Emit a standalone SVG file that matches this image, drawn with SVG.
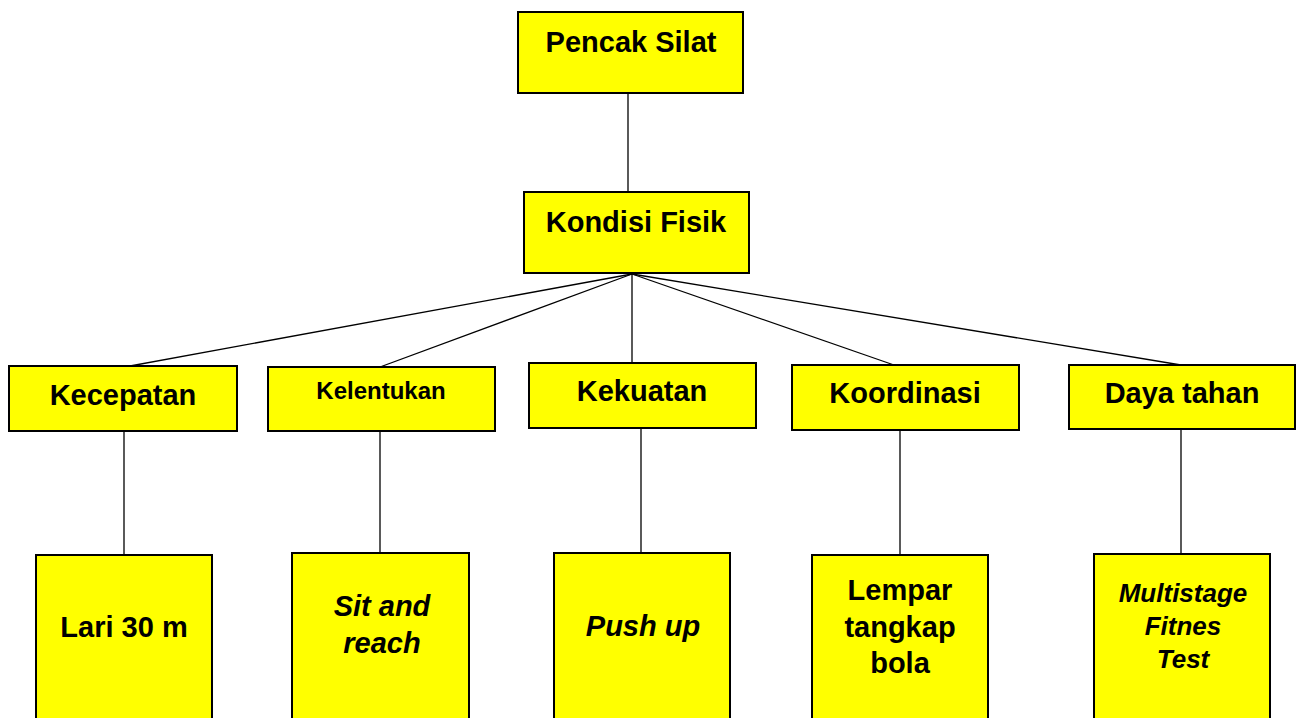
<svg xmlns="http://www.w3.org/2000/svg" width="1304" height="718" viewBox="0 0 1304 718">
<style>
.box{fill:#ffff00;stroke:#000;stroke-width:2}
.t{font-family:"Liberation Sans",Arial,sans-serif;font-weight:bold;font-size:29px;text-anchor:middle;fill:#000}
.i{font-style:italic}
.s{font-size:24px}
.m{font-size:26px}
.c{stroke:#000;stroke-width:1.3;fill:none}
</style>
<rect width="1304" height="718" fill="#fff"/>
<g id="connectors">
<line class="c" x1="628" y1="93" x2="628" y2="192"/>
<line class="c" x1="632" y1="274" x2="130" y2="366"/>
<line class="c" x1="632" y1="274" x2="380" y2="367"/>
<line class="c" x1="632" y1="274" x2="632" y2="363"/>
<line class="c" x1="632" y1="274" x2="894" y2="365"/>
<line class="c" x1="632" y1="274" x2="1181" y2="365"/>
<line class="c" x1="124" y1="431" x2="124" y2="555"/>
<line class="c" x1="380" y1="428" x2="380" y2="553"/>
<line class="c" x1="641" y1="428" x2="641" y2="556"/>
<line class="c" x1="900" y1="430" x2="900" y2="555"/>
<line class="c" x1="1181" y1="429" x2="1181" y2="554"/>
</g>
<g id="pencak-silat"><rect class="box" x="518" y="12" width="225" height="81"/><text class="t" x="631" y="52">Pencak Silat</text></g>
<g id="kondisi-fisik"><rect class="box" x="524" y="192" width="225" height="81"/><text class="t" x="636" y="232">Kondisi Fisik</text></g>
<g id="kecepatan"><rect class="box" x="9" y="366" width="228" height="65"/><text class="t" x="123" y="405">Kecepatan</text></g>
<g id="kelentukan"><rect class="box" x="268" y="367" width="227" height="64"/><text class="t s" x="381" y="399">Kelentukan</text></g>
<g id="kekuatan"><rect class="box" x="529" y="363" width="227" height="65"/><text class="t" x="642" y="401">Kekuatan</text></g>
<g id="koordinasi"><rect class="box" x="792" y="365" width="227" height="65"/><text class="t" x="905" y="403">Koordinasi</text></g>
<g id="daya-tahan"><rect class="box" x="1069" y="365" width="226" height="64"/><text class="t" x="1182" y="403">Daya tahan</text></g>
<g id="lari"><rect class="box" x="36" y="555" width="176" height="175"/><text class="t" x="124" y="637">Lari 30 m</text></g>
<g id="sit-reach"><rect class="box" x="292" y="553" width="177" height="177"/><text class="t i" x="382" y="616">Sit and</text><text class="t i" x="382" y="653">reach</text></g>
<g id="push-up"><rect class="box" x="554" y="553" width="176" height="177"/><text class="t i" x="643" y="636">Push up</text></g>
<g id="lempar"><rect class="box" x="812" y="555" width="176" height="175"/><text class="t" x="900" y="600">Lempar</text><text class="t" x="900" y="637">tangkap</text><text class="t" x="900" y="673">bola</text></g>
<g id="multistage"><rect class="box" x="1094" y="554" width="176" height="176"/><text class="t i m" x="1183" y="602">Multistage</text><text class="t i m" x="1183" y="635">Fitnes</text><text class="t i m" x="1183" y="668">Test</text></g>
</svg>
